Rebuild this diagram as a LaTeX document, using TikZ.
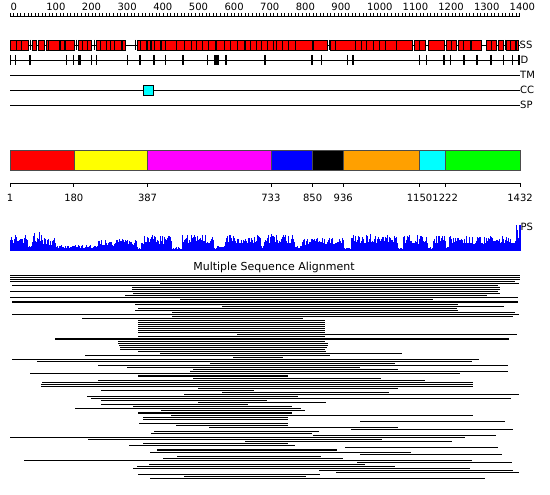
\documentclass[tikz,border=0pt]{standalone}
\usepackage{fontspec}
\setmainfont{DejaVu Sans}
\definecolor{dorange}{RGB}{255,160,0}
\definecolor{dred}{RGB}{255,0,0}
\definecolor{dyellow}{RGB}{255,255,0}
\definecolor{dmagenta}{RGB}{255,0,255}
\definecolor{dblue}{RGB}{0,0,255}
\definecolor{dcyan}{RGB}{0,255,255}
\definecolor{dgreen}{RGB}{0,255,0}
\begin{document}
\begin{tikzpicture}[x=1pt,y=-1pt,
  lab/.style={font=\fontsize{10}{12}\selectfont, inner sep=0pt},
  trk/.style={line width=0.8pt},
  ssbox/.style={fill=dred, draw=black, line width=0.6pt},
  dombox/.style={draw=black!70, line width=0.5pt},
  msa/.style={line width=1.05pt},
  pscol/.style={fill=dblue}]
\useasboundingbox (0,0) rectangle (550,495);
\fill[white] (0,0) rectangle (550,495);

% ---- top ruler
\draw[trk] (10,16) -- (520,16);
\foreach \n in {0,10,...,1430} {\draw[line width=0.6pt] ({10+\n*0.3564},16) -- ++(0,-2.6);}
\foreach \n in {0,100,...,1400} {\node[lab, anchor=base west] (r\n) at ({10.5+\n*0.3564},10.5) {\n};}

% ---- SS track
\draw[trk] (10,45) -- (520,45);
\foreach \a/\b in {10/16,16/21.7,21.7/28.3,32/36.7,38.3/44,46.7/48.3,48.3/59.3,60/64,65.3/74,
  78.3/82.3,82.3/87.3,87.3/91.7,96/100,100/106,106/110,110/114.3,114.3/121.7,122.3/125.7,
  137.7/140,140/146.7,147.7/150,150/151.7,151.7/154,154/160,161.7/165.7,165.7/176,
  176.7/184,184/191,191/196.7,196.7/202.3,202.3/208.3,208.3/215,215/216.7,216.7/224,224/230,
  230/237.3,237.3/244.3,244.3/245,245/250,250/256,256/261.7,261.7/267.7,267.7/273.3,273.3/276,
  276/282.3,282.3/288.3,288.3/295,295/312.7,313.3/327.3,
  330/335,335/355,355/361,361/366.7,366.7/373.3,373.3/379.3,379.3/385,385/396.7,396.7/412.7,
  414/419.3,419.3/425,428.3/444,446/451.7,451.7/456.7,458.3/463.3,463.3/470,471.7/481.7,
  486/491,491/496.7,498.3/503.3,506.7/510,510/515,516.7/518.3}
  {\draw[ssbox] (\a,40) rectangle (\b,50);}
\draw[fill=dblue, draw=black, line width=0.6pt] (515,40) rectangle (516.7,50);
\foreach \t in {30,76,94.3,135.7,329,505.7} {\draw[line width=0.7pt] (\t,40) -- (\t,50);}
\node[lab, anchor=west] (ss) at (519.5,45) {SS};

% ---- D track
\draw[trk] (10,60) -- (520,60);
\foreach \t/\w in {10/1,15.7/1,30/1.3,66.7/1,73.3/1.3,79.5/2.4,91.7/1,96/1,127.7/1.3,140/2.4,
  154/1.3,165.7/1.3,183.3/2.2,207.7/1.3,216.5/4.5,226/1.3,265/1.3,312.3/1.8,321/1,347.3/1,
  353.3/1.8,419.3/1,426.7/1,444/1.8,450/1,464/1.6,476.7/1.6,490.7/1.6,503.3/1,512.7/1,519.3/1.8}
  {\draw[line width=\w pt] (\t,55) -- (\t,65);}
\node[lab, anchor=west] (d) at (520.5,60) {D};

% ---- TM, CC, SP tracks
\draw[trk] (10,75) -- (520,75);
\node[lab, anchor=west] (tm) at (520,75) {TM};
\draw[trk] (10,90) -- (520,90);
\draw[fill=dcyan, draw=black, line width=0.7pt] (143,85) rectangle (153,95);
\node[lab, anchor=west] (cc) at (520,90) {CC};
\draw[trk] (10,105) -- (520,105);
\node[lab, anchor=west] (sp) at (520,105) {SP};

% ---- domain bar
\foreach \a/\b/\c in {1/180/dred,180/387/dyellow,387/733/dmagenta,733/850/dblue,850/936/black,
  936/1150/dorange,1150/1222/dcyan,1222/1432/dgreen}
  {\fill[\c, dombox] ({10+(\a-1)*0.356394},150) rectangle ({10+(\b-1)*0.356394},170.5);}
\draw[trk] (10,183) -- (520,183);
\foreach \n in {1,180,387,733,850,936,1150,1222,1432}
  {\draw[line width=0.7pt] ({10+(\n-1)*0.356394},183) -- ++(0,4.5);
   \node[lab, anchor=base] (dl\n) at ({10+(\n-1)*0.356394},202) {\n};}

% ---- PS histogram
\pgfmathsetseed{4242}
\foreach \a/\b/\h in {10/28/18,28/32/6,32/42/19,42/56/14,56/98/6,98/137/12,137/141/4,141/172/16,
  172/182/4,182/214/17,214/225/5,225/261/16,261/264/6,264/295/17,295/302/5,302/344/13,
  344/351/4,351/398/17,398/403/4,403/428/16,428/433/4,433/446/16,446/449/5,449/516/15,516/520/26}
  {\pgfmathtruncatemacro\bm{\b-1}
   \foreach \x in {\a,...,\bm}
     {\pgfmathsetmacro\hh{\h*(0.45+0.55*rnd)}
      \fill[pscol] (\x-0.15,251) rectangle (\x+1.15,251-\hh);}}
\fill[pscol] (519,251) rectangle (520.5,225);
\node[lab, anchor=west] (ps) at (520.5,227) {PS};

% ---- MSA
\node[font=\fontsize{11}{13}\selectfont, inner sep=0pt] (msat) at (274,267) {Multiple Sequence Alignment};
\foreach \a/\b [count=\i from 0] in {10/520,10/520,10/520,10/515,160/519,12/498,132/500,132/500,
  10/498,133/500,125/487,10/518,180/433,12/518,135/458,222/504,138/457,135/458,172/515,12/519,
  172/513,82/303,138/325,138/325,138/325,138/325,138/325,138/325,138/325,237/517,138/325,55/509,
  118/325,118/328,119/328,120/327,120/325,138/326,160/402,85/330,233/283,12/479,37/472,210/395,
  98/508,127/360,193/398,190/508,30/460,138/288,193/381,98/425,42/473,41/473,41/473,198/398,
  101/254,222/389,184/519,87/298,91/511,101/267,198/326,101/248,133/292,75/301,161/305,138/292,
  171/473,143/288,143/288,360/505,139/288,176/288,209/398,351/513,154/319,151/312,313/496,
  10/465,88/382,245/452,143/288,129/295,345/498,157/337,150/411,360/502,177/321,163/343,
  24/472,357/512,149/365,137/395,133/470,319/513,336/519,138/320,184/306,150/485}
  {\draw[msa] (\a,275.3+\i*2.055) -- (\b,275.3+\i*2.055);}
\end{tikzpicture}
\end{document}
